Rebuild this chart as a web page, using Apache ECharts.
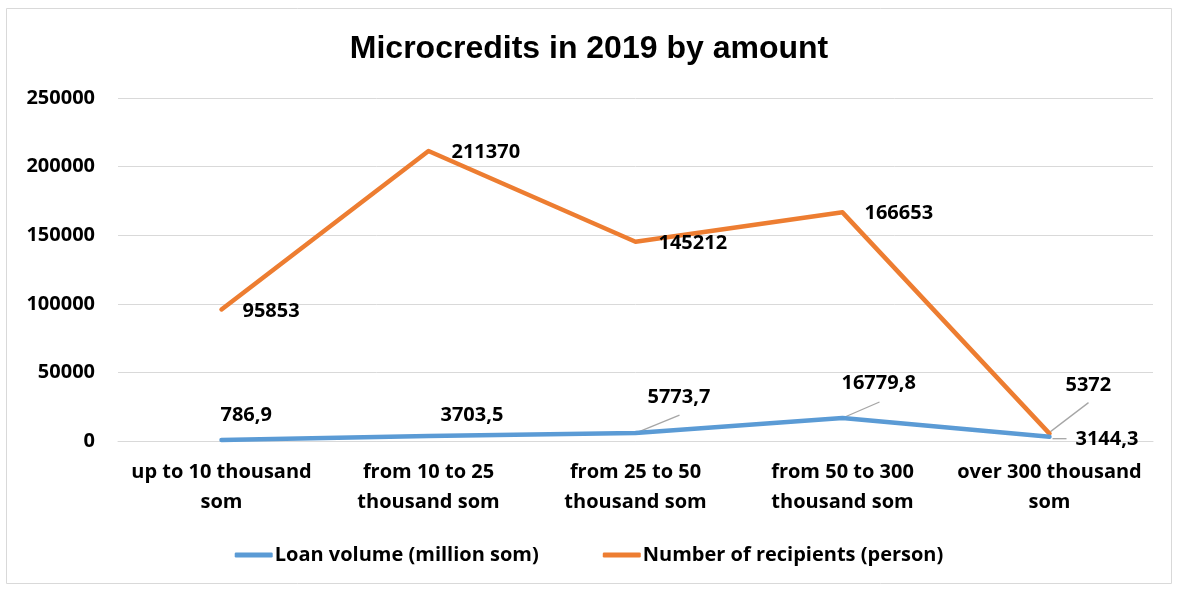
<!DOCTYPE html>
<html>
<head>
<meta charset="utf-8">
<style>
  html, body { margin: 0; padding: 0; background: #ffffff; }
  #chart { width: 1178px; height: 589px; }
</style>
<script src="https://cdn.jsdelivr.net/npm/echarts@6/dist/echarts.min.js"></script>
</head>
<body>
<div id="chart"></div>
<script>
// Microcredit size brackets
const categories = [
  'up to 10 thousand\nsom',
  'from 10 to 25\nthousand som',
  'from 25 to 50\nthousand som',
  'from 50 to 300\nthousand som',
  'over 300 thousand\nsom'
];
const loanVolume = [786.9, 3703.5, 5773.7, 16779.8, 3144.3];      // million som
const recipients = [95853, 211370, 145212, 166653, 5372];          // persons
const seriesNames = ['Loan volume (million som)', 'Number of recipients (person)'];

// Label placement: shift of each value label from its point (series 0 = loan volume, 1 = recipients)
const labelShift = [
  [[-2, -25], [11, -21], [11, -36], [-2, -35], [25, 3]],
  [[20, 2], [22, 1], [22, 2], [21, 1], [15, -48]]
];
// Leader lines: [series, point index, start dx, start dy, end dx, end dy] relative to the point
const leaderLines = [
  [0, 2, 0, 0, 44, -18],
  [0, 3, 0, 0, 37, -16],
  [0, 4, 3, 2, 17, 2],
  [1, 4, 1, -2, 39, -31]
];

const FONT = '"Open Sans", Lato, sans-serif';
const fmt = v => String(v).replace('.', ',');
const seriesValues = [loanVolume, recipients];

const leaderData = leaderLines.map(l => [l[1], seriesValues[l[0]][l[1]]]);

const chart = echarts.init(document.getElementById('chart'), null, { renderer: 'canvas' });

const labelStyle = {
  show: true,
  position: 'right',
  distance: 0,
  color: '#000',
  fontFamily: FONT,
  fontWeight: 'bold',
  fontSize: 20,
  formatter: p => fmt(p.value)
};

chart.setOption({
  animation: false,
  graphic: [{
    type: 'rect',
    shape: { x: 6.5, y: 8.5, width: 1165, height: 575 },
    style: { fill: 'none', stroke: '#D9D9D9', lineWidth: 1 },
    silent: true
  }],
  title: {
    text: 'Microcredits in 2019 by amount',
    left: 'center',
    top: 28,
    textStyle: {
      fontFamily: '"Liberation Sans", Arial, sans-serif',
      fontWeight: 'bold',
      fontSize: 32,
      color: '#000'
    }
  },
  grid: { left: 118, right: 25, top: 98, bottom: 148, containLabel: false },
  legend: {
    bottom: 19,
    left: 'center',
    itemWidth: 38,
    itemHeight: 5,
    itemGap: 64,
    icon: 'roundRect',
    textStyle: { fontFamily: FONT, fontWeight: 'bold', fontSize: 20, color: '#000', padding: [0, 0, 0, -3] },
    data: seriesNames
  },
  xAxis: {
    type: 'category',
    data: categories,
    boundaryGap: true,
    axisLine: { show: true, lineStyle: { color: '#D9D9D9', width: 1 } },
    axisTick: { show: false },
    axisLabel: {
      interval: 0,
      margin: 16,
      fontFamily: FONT,
      fontWeight: 'bold',
      fontSize: 20,
      lineHeight: 30,
      color: '#000'
    }
  },
  yAxis: {
    type: 'value',
    min: 0,
    max: 250000,
    interval: 50000,
    axisLine: { show: false },
    axisTick: { show: false },
    splitLine: { lineStyle: { color: '#D9D9D9', width: 1 } },
    axisLabel: {
      margin: 23,
      fontFamily: FONT,
      fontWeight: 'bold',
      fontSize: 20,
      color: '#000',
      formatter: v => String(v)
    }
  },
  labelLayout: function (params) {
    const s = labelShift[params.seriesIndex] && labelShift[params.seriesIndex][params.dataIndex];
    return s ? { dx: s[0], dy: s[1] } : {};
  },
  series: [
    {
      name: seriesNames[0],
      type: 'line',
      data: loanVolume,
      symbol: 'circle',
      symbolSize: 2,
      itemStyle: { color: '#5B9BD5' },
      lineStyle: { color: '#5B9BD5', width: 4.5, cap: 'round', join: 'round' },
      label: labelStyle,
      z: 3
    },
    {
      name: seriesNames[1],
      type: 'line',
      data: recipients,
      symbol: 'circle',
      symbolSize: 2,
      itemStyle: { color: '#ED7D31' },
      lineStyle: { color: '#ED7D31', width: 4.5, cap: 'round', join: 'round' },
      label: labelStyle,
      z: 2
    },
    {
      // grey leader lines from points to their shifted value labels
      type: 'custom',
      data: leaderData,
      silent: true,
      z: 1,
      renderItem: function (params, api) {
        const p = api.coord([api.value(0), api.value(1)]);
        const l = leaderLines[params.dataIndex];
        return {
          type: 'line',
          shape: { x1: p[0] + l[2], y1: p[1] + l[3], x2: p[0] + l[4], y2: p[1] + l[5] },
          style: { stroke: '#A6A6A6', lineWidth: 1.3 }
        };
      }
    }
  ]
});
</script>
</body>
</html>
